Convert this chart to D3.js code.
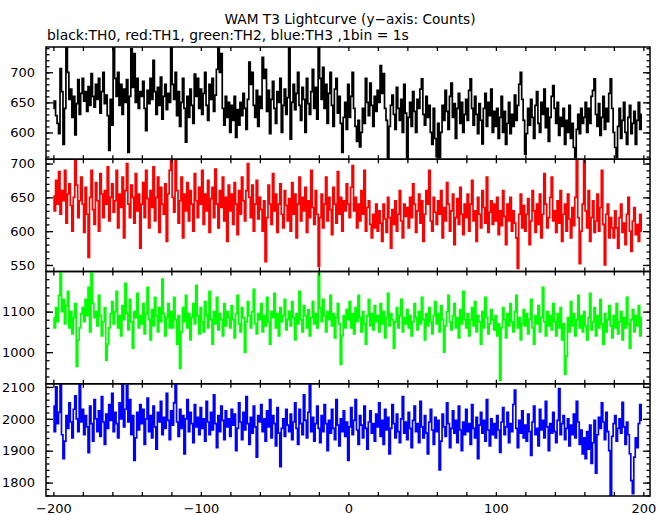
<!DOCTYPE html>
<html><head><meta charset="utf-8">
<script src="https://cdn.jsdelivr.net/npm/d3@7"></script>
<style>body{margin:0;background:#fff}svg{display:block}</style>
</head><body>
<svg id="c" width="669" height="515"></svg>
<script>
const titleText = "WAM T3 Lightcurve (y\u2212axis: Counts)";
const subtitleText = "black:TH0, red:TH1, green:TH2, blue:TH3 ,1bin = 1s";
const xStart = -200; // first 1-s bin
const seriesNames = ["TH0", "TH1", "TH2", "TH3"];
const seriesColors = ["#000000", "#ff0000", "#00ff00", "#0000ff"];

const th0 = [
640,652,628,615,598,706,668,580,640,742,700,655,672,625,660,596,648,688,630,665,
690,652,668,635,676,645,698,660,642,680,655,690,632,668,700,648,662,628,570,655,
612,742,690,660,700,645,680,630,672,650,688,567,660,739,675,731,650,690,640,668,
660,685,640,603,670,648,690,655,720,668,630,675,645,692,622,660,680,638,665,650,
742,680,655,700,628,668,610,650,690,640,584,660,625,672,645,615,697,660,690,640,
672,630,665,700,645,620,680,655,690,635,662,705,742,700,731,640,612,660,625,650,
600,645,620,660,592,638,612,650,628,665,640,605,655,717,680,700,645,625,670,610,
660,640,725,690,705,635,670,598,655,685,640,615,668,650,690,600,645,672,630,658,
742,589,650,680,638,665,700,645,620,675,655,600,690,648,630,668,705,640,675,622,
742,690,655,708,640,680,615,665,700,645,610,672,690,632,660,615,567,625,650,605,
680,625,660,700,640,610,585,620,576,600,640,615,690,650,628,682,645,610,660,635,
670,650,711,665,698,640,620,556,610,645,662,630,605,675,640,620,655,600,680,632,
558,625,650,610,668,635,600,655,640,672,689,630,612,660,625,645,600,580,640,590,
560,615,558,600,645,620,670,635,605,660,682,625,648,590,640,665,615,650,600,630,
655,620,670,689,640,612,660,630,598,648,620,581,640,665,610,650,628,672,600,635,
610,640,590,625,660,600,635,580,615,650,598,630,610,662,620,645,680,700,655,620,
564,598,640,612,655,625,590,645,668,615,600,650,630,672,608,640,585,625,660,678,
640,615,650,595,625,610,640,580,620,600,645,590,615,575,558,605,630,598,640,615,
625,650,600,640,615,660,670,689,630,610,648,595,625,660,605,640,618,665,689,640,
600,575,558,610,640,590,620,650,600,580,625,645,598,615,635,580,620,650,605,630
];
const th1 = [
652,630,675,640,688,625,660,645,690,612,655,670,638,600,650,705,668,620,645,680,
640,598,665,625,561,650,690,632,610,672,645,600,685,655,620,660,640,695,615,650,
670,628,645,690,605,655,635,680,590,660,700,640,620,668,650,612,685,630,655,575,
640,672,620,690,648,605,660,635,695,615,650,680,598,665,640,625,670,585,655,690,
706,650,628,705,660,612,645,680,590,655,630,672,615,660,640,600,685,645,620,665,
640,690,610,655,630,675,598,648,665,620,692,640,605,660,635,680,615,650,585,668,
630,655,610,672,640,595,660,625,680,645,615,660,700,650,620,668,600,640,675,618,
650,632,600,645,555,620,668,640,610,685,630,655,598,640,670,625,605,660,638,615,
648,600,672,625,655,590,640,680,615,650,630,665,598,645,620,690,635,610,660,625,
548,620,655,605,640,680,615,650,632,595,665,640,612,688,625,650,600,645,630,670,
640,620,665,697,630,650,605,640,615,660,625,690,600,635,645,610,590,625,605,640,
600,630,612,585,640,618,598,650,620,575,632,610,645,600,625,660,615,590,640,622,
635,605,650,620,670,640,598,630,655,612,645,585,625,660,640,690,615,600,650,628,
610,645,625,660,590,635,615,672,640,600,630,655,580,620,648,610,665,625,595,640,
620,655,600,640,675,615,630,585,650,625,605,660,635,612,680,598,628,645,610,640,
615,650,595,630,608,660,622,580,640,615,650,600,630,612,590,545,625,655,605,638,
600,625,648,580,615,660,630,598,640,610,655,590,625,685,640,605,620,650,680,615,
630,598,645,612,660,585,625,640,600,655,618,590,635,608,650,706,620,552,600,640,
706,630,605,660,585,620,645,598,615,655,600,635,690,610,550,625,640,590,620,605,
590,630,605,575,620,640,598,612,580,625,650,600,570,615,635,595,610,585,625,600
];
const th2 = [
1085,1060,1110,1075,1140,1198,1100,1130,1070,1115,1150,1060,1100,1045,1085,1120,965,1030,1060,1095,
1110,1075,1130,1090,1160,1050,1198,1120,1085,1100,1065,1140,1090,1040,1075,1110,980,1020,1060,1095,
1125,1070,1100,1150,1060,1090,1040,1115,1080,1170,1095,1055,1130,1075,1010,1100,1085,1145,1060,1090,
1070,1120,1045,1095,1160,1080,1030,1105,1065,1135,1090,1050,1110,1075,1180,1095,1040,1085,1120,1060,
1100,1060,1135,1080,1020,1090,960,1050,1110,1075,1140,1060,1095,1030,1085,1120,1070,1165,1090,1045,
1110,1075,1050,1125,1090,1060,1150,1080,1020,1100,1070,1135,1055,1095,1080,1040,1120,1065,1100,1085,
1060,1115,1080,1035,1095,1140,1070,1050,1110,1085,1000,1075,1125,1090,1060,1100,1155,1070,1045,1095,
1080,1120,1050,1090,1065,1135,1075,1020,1100,1085,1145,1060,1095,1040,1110,1075,1090,1130,1055,1080,
1100,1065,1125,1085,1030,1095,1070,1150,1080,1050,1115,1090,1060,1105,1040,1085,1125,1070,1095,1060,
1199,1110,1075,1130,1090,1050,1100,1080,1140,1065,1095,1035,1085,1120,1070,970,1040,1090,1060,1105,
1080,1125,1060,1095,1045,1110,1075,1140,1085,1050,1100,1070,1020,1090,1130,1065,1095,1055,1115,1075,
1090,1050,1120,1070,1100,1035,1085,1145,1065,1095,1080,1010,1075,1110,1060,1090,1130,1050,1085,1070,
1105,1060,1090,1040,1075,1120,1085,1055,1100,1070,1135,1080,1030,1095,1065,1110,1075,1045,1090,1125,
1070,1095,1050,1115,1080,1000,1065,1100,1140,1075,1055,1090,1120,1060,1085,1035,1105,1070,1150,1080,
1060,1095,1040,1080,1110,1065,1125,1050,1090,1075,1020,1100,1060,1135,1085,1045,1070,1105,1080,1055,
1090,1040,1070,930,1060,1110,1080,1035,1095,1065,1120,1075,1050,1100,1140,1060,1085,1030,1070,1105,
1065,1095,1045,1080,1130,1060,1020,1090,1070,1115,1050,1085,1160,1075,1040,1100,1065,1090,1055,1120,
1075,1040,1095,1060,1110,1030,1070,945,990,1085,1050,1125,1065,1095,1040,1080,1140,1060,1090,1050,
1100,1065,1030,1085,1145,1055,1075,1110,1040,1090,1060,1130,1070,1020,1095,1050,1080,1115,1065,1035,
1090,1060,1120,1045,1075,1100,1030,1085,1060,1135,1070,1010,1080,1105,1050,1090,1065,1115,1040,1085
];
const th3 = [
2040,1960,2100,1985,2020,2110,1950,1875,1930,2010,1970,2050,1990,1940,2030,2072,2000,1960,2110,1990,
2030,1950,2010,1975,1894,2040,1985,1930,2060,2000,1960,2025,1945,2070,1990,1920,2015,1970,2045,1995,
2080,1960,2020,1985,1940,2050,2000,2110,1975,2030,2105,1990,2060,1950,2010,1870,1940,2020,1965,2045,
1985,2030,1920,2000,2065,1960,2010,1940,2040,1975,1905,2020,1990,2055,1950,2005,1970,2080,1995,1935,
2025,1980,2050,2110,1990,1945,2030,1970,2010,1890,2000,2060,1960,2020,1985,1925,2045,1975,2005,1950,
2035,1970,2000,1930,2055,1990,1950,2020,1965,2075,1985,1910,2010,1960,2040,1995,1935,2025,1975,2000,
1945,2030,1980,2015,1900,1970,2050,1990,1935,2020,1965,2070,1985,1920,2005,1955,2040,1975,1880,2010,
1990,2045,1960,2000,1930,2025,1975,2060,1940,2010,1985,1915,2035,1955,1850,1970,2000,1945,2030,1980,
1960,2015,1935,1990,2050,1970,1920,2030,1985,1950,2075,1995,1940,2020,2110,1960,2005,1930,1985,2040,
1970,1925,2010,1960,2045,1985,1900,1995,1955,2030,1970,1935,2060,1980,1915,2000,1960,2025,1945,1990,
1870,1975,2035,1950,1995,2060,1965,1920,2010,1980,1940,2040,1970,1905,1990,2025,1955,1985,1930,2015,
1975,2050,1945,1995,1920,2030,1965,2005,1890,1970,2045,1985,1940,2015,1960,1925,2000,2070,1955,1990,
1935,2020,1970,1910,1995,2040,1960,1985,1925,2055,1975,1940,2010,1955,1890,1990,2030,1965,1920,2005,
1960,1995,1840,1930,2015,1975,1945,2050,1985,1910,1970,2025,1955,1995,1925,2040,1965,1900,1990,1950,
2030,1960,1985,1920,2045,1970,1940,2005,1875,1980,2020,1955,1995,1930,2060,1965,1915,2000,1950,1985,
1940,2010,1965,1895,1990,2035,1950,1975,2020,1925,1985,1960,2045,2090,1970,1910,1995,1955,2025,1940,
1980,1930,2015,1960,1885,1990,2040,1950,1970,1915,2030,1965,1995,1940,2055,1975,1900,1985,1955,2020,
1960,1925,1995,2095,1950,1985,2010,1935,1970,2000,1915,1980,1950,2015,1940,2055,1990,1920,1965,1890,
1940,1875,1960,1905,1980,1860,1925,1995,1830,1950,2005,1970,2050,1990,1935,2020,1960,1900,1758,1945,
1985,2010,1930,1970,2000,1955,2052,1975,1920,1990,1950,1890,1806,1765,1880,1940,1910,1985,2045,1995
];

const yDomains = [[555.5, 742], [540.3, 706.4], [922, 1199], [1758, 2110]];
const yTickLabels = [[600, 650, 700], [550, 600, 650, 700], [1000, 1100], [1800, 1900, 2000, 2100]];
const yMinorSteps = [10, 10, 20, 20];
const xTickLabels = [-200, -100, 0, 100, 200];
const xMinorStep = 20;
const xDomain = [-205, 204.5];

const series = [th0, th1, th2, th3];
const svg = d3.select("#c");
const FONT = "DejaVu Sans, sans-serif";
const plot = {left: 46, right: 650, top: 47, bottom: 496};
const panelH = (plot.bottom - plot.top) / series.length;
const x = d3.scaleLinear().domain(xDomain).range([plot.left, plot.right]);
const xMinor = d3.range(-200, 201, xMinorStep);
const fmt = d => d < 0 ? "\u2212" + Math.abs(d) : String(d);

const defs = svg.append("defs");

series.forEach((vals, k) => {
  const top = plot.top + k * panelH, bot = top + panelH;
  const y = d3.scaleLinear().domain(yDomains[k]).range([bot, top]);
  const g = svg.append("g");
  defs.append("clipPath").attr("id", "clip" + k).append("rect")
    .attr("x", plot.left).attr("y", top).attr("width", plot.right - plot.left).attr("height", panelH);

  const line = d3.line().x((d, i) => x(xStart + i)).y(d => y(d)).curve(d3.curveStep);
  g.append("path").datum(vals)
    .attr("clip-path", `url(#clip${k})`)
    .attr("fill", "none").attr("stroke", seriesColors[k]).attr("stroke-width", 1.7)
    .attr("stroke-linejoin", "miter")
    .attr("d", line);

  const minor = d3.range(Math.ceil(yDomains[k][0] / yMinorSteps[k]) * yMinorSteps[k], yDomains[k][1], yMinorSteps[k]);
  const strip = s => { s.select(".domain").remove(); s.selectAll("line").attr("stroke", "#000").attr("stroke-width", 1.3); };

  // left axis: inward ticks
  g.append("g").attr("transform", `translate(${plot.left},0)`)
    .call(d3.axisRight(y).tickValues(minor).tickSize(3.5).tickFormat("")).call(strip);
  g.append("g").attr("transform", `translate(${plot.left},0)`)
    .call(d3.axisRight(y).tickValues(yTickLabels[k]).tickSize(7).tickFormat("")).call(strip);
  // left labels
  const lab = g.append("g").attr("transform", `translate(${plot.left},0)`)
    .call(d3.axisLeft(y).tickValues(yTickLabels[k]).tickSize(0).tickPadding(11).tickFormat(fmt));
  lab.select(".domain").remove();
  lab.selectAll("text").attr("font-family", FONT).attr("font-size", 13).attr("fill", "#000");
  // right axis: inward ticks
  g.append("g").attr("transform", `translate(${plot.right},0)`)
    .call(d3.axisLeft(y).tickValues(minor).tickSize(3.5).tickFormat("")).call(strip);
  g.append("g").attr("transform", `translate(${plot.right},0)`)
    .call(d3.axisLeft(y).tickValues(yTickLabels[k]).tickSize(7).tickFormat("")).call(strip);
  // top and bottom x ticks (inward)
  g.append("g").attr("transform", `translate(0,${top})`)
    .call(d3.axisBottom(x).tickValues(xMinor).tickSize(4).tickFormat("")).call(strip);
  g.append("g").attr("transform", `translate(0,${bot})`)
    .call(d3.axisTop(x).tickValues(xMinor).tickSize(4).tickFormat("")).call(strip);

  g.append("rect").attr("x", plot.left).attr("y", top)
    .attr("width", plot.right - plot.left).attr("height", panelH)
    .attr("fill", "none").attr("stroke", "#000").attr("stroke-width", 1.5);
});

// bottom labels
const xl = svg.append("g").attr("transform", `translate(0,${plot.bottom})`)
  .call(d3.axisBottom(x).tickValues(xTickLabels).tickSize(0).tickPadding(8).tickFormat(fmt));
xl.select(".domain").remove();
xl.selectAll("text").attr("font-family", FONT).attr("font-size", 13).attr("fill", "#000");

svg.append("text").attr("x", 350).attr("y", 24).attr("text-anchor", "middle")
  .attr("font-family", FONT).attr("font-size", 13.7).text(titleText);
svg.append("text").attr("x", 47).attr("y", 40)
  .attr("font-family", FONT).attr("font-size", 13.9).text(subtitleText);
</script>
</body></html>
